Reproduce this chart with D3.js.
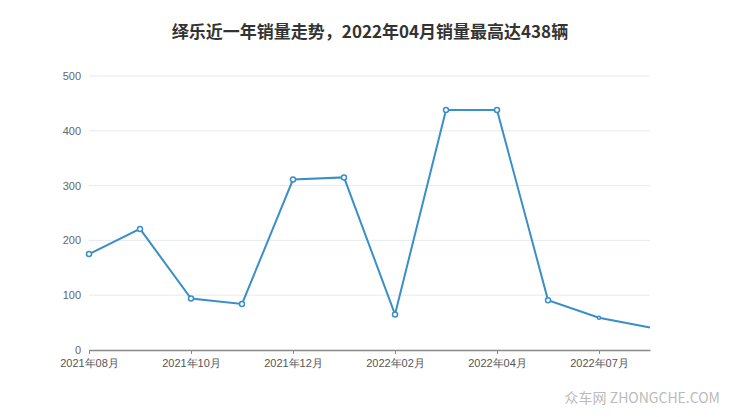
<!DOCTYPE html>
<html><head><meta charset="utf-8">
<script src="https://cdn.jsdelivr.net/npm/d3@7"></script>
<style>body{margin:0;background:#fff;}svg{display:block;font-family:"Noto Sans CJK SC","Liberation Sans",sans-serif;}</style>
</head><body>
<svg id="c" width="740" height="417"></svg>
<script>
const title = "绎乐近一年销量走势，2022年04月销量最高达438辆";
const months = ["2021年08月","2021年09月","2021年10月","2021年11月","2021年12月","2022年01月","2022年02月","2022年03月","2022年04月","2022年05月","2022年07月","2022年08月"];
const sales = [175, 221, 94, 84, 311, 315, 65, 438, 438, 91, 59, 41];
const yTicks = [0, 100, 200, 300, 400, 500];
const watermark = "众车网  ZHONGCHE.COM";

const svg = d3.select("#c");
const m = {l: 89, r: 650, t: 76, b: 350};
const x = d3.scalePoint().domain(months).range([m.l, m.r]);
const y = d3.scaleLinear().domain([0, 500]).range([m.b, m.t]);

svg.append("text").attr("x", 370).attr("y", 38).attr("text-anchor", "middle")
  .attr("font-size", 17).attr("font-weight", "bold").attr("fill", "#333").text(title);

// grid
svg.append("g").selectAll("line").data(yTicks.filter(d => d > 0)).join("line")
  .attr("x1", m.l).attr("x2", m.r).attr("y1", d => y(d)).attr("y2", d => y(d))
  .attr("stroke", "#e6e9ee").attr("stroke-width", 1);

// y axis labels
const ya = svg.append("g").attr("transform", `translate(${m.l},0)`)
  .call(d3.axisLeft(y).tickValues(yTicks).tickSize(0).tickPadding(8));
ya.select(".domain").remove();
ya.selectAll("text").attr("font-size", 11).attr("fill", "#666").attr("font-family", "'Liberation Sans',sans-serif");

// x axis
const xa = svg.append("g").attr("transform", `translate(0,${m.b})`)
  .call(d3.axisBottom(x).tickValues(months.filter((d, i) => i % 2 === 0)).tickSize(4).tickPadding(5).tickSizeOuter(0));
xa.select(".domain").attr("stroke", "#888").attr("stroke-width", 1.5);
xa.selectAll(".tick line").attr("stroke", "#888");
xa.selectAll("text").attr("font-size", 11).attr("fill", "#555");

// line
const line = d3.line().x((d, i) => x(months[i])).y(d => y(d));
svg.append("path").datum(sales).attr("d", line).attr("fill", "none")
  .attr("stroke", "#3a8ec9").attr("stroke-width", 2);

svg.append("g").selectAll("circle").data(sales.slice(0, sales.length - 1)).join("circle")
  .attr("cx", (d, i) => x(months[i])).attr("cy", d => y(d))
  .attr("r", (d, i) => i === sales.length - 2 ? 1.5 : 2.5)
  .attr("fill", "#fff").attr("stroke", "#3a8ec9").attr("stroke-width", 1.5);

svg.append("text").attr("x", 720).attr("y", 403).attr("text-anchor", "end")
  .attr("font-size", 14).attr("fill", "#bbb").text(watermark);
</script>
</body></html>
